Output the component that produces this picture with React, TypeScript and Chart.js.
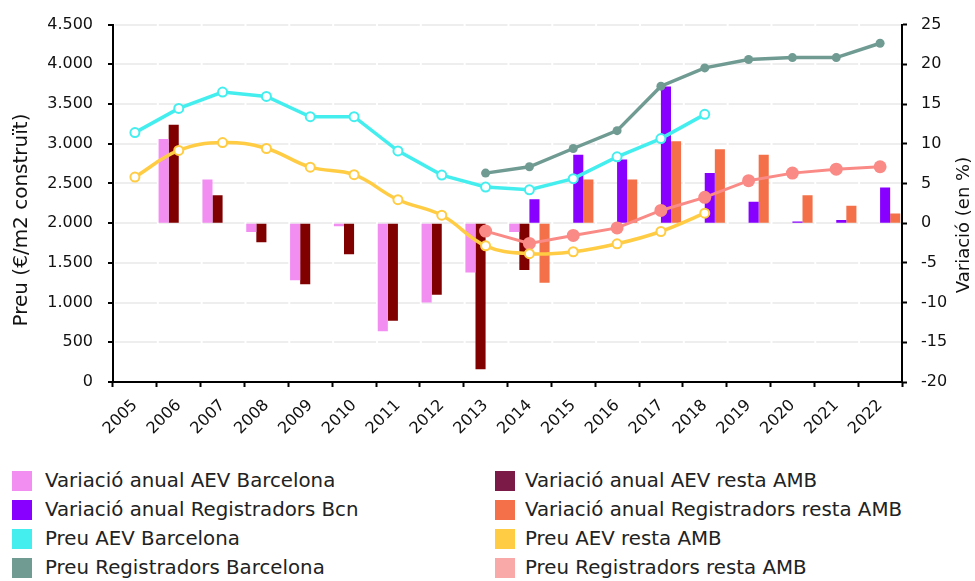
import React, { useEffect, useRef } from "react";
import { Chart, registerables } from "chart.js";

Chart.register(...registerables);

const years = ["2005","2006","2007","2008","2009","2010","2011","2012","2013","2014","2015","2016","2017","2018","2019","2020","2021","2022"];

const varAevBcn = [null, 10.6, 5.5, -1.1, -7.2, -0.4, -13.6, -10.0, -6.2, -1.1, null, null, null, null, null, null, null, null];
const varAevResta = [null, 12.4, 3.5, -2.4, -7.7, -3.9, -12.3, -9.0, -18.4, -5.9, null, null, null, null, null, null, null, null];
const varRegBcn = [null, null, null, null, null, null, null, null, null, 3.0, 8.6, 8.0, 17.2, 6.3, 2.7, 0.2, 0.4, 4.5];
const varRegResta = [null, null, null, null, null, null, null, null, null, -7.5, 5.5, 5.5, 10.3, 9.3, 8.6, 3.5, 2.2, 1.2];

const preuAevBcn = [3140, 3445, 3650, 3595, 3340, 3340, 2910, 2605, 2455, 2420, 2560, 2835, 3065, 3370, null, null, null, null];
const preuAevResta = [2580, 2915, 3015, 2940, 2705, 2610, 2295, 2100, 1715, 1615, 1640, 1740, 1895, 2125, null, null, null, null];
const preuRegBcn = [null, null, null, null, null, null, null, null, 2630, 2710, 2940, 3165, 3725, 3955, 4060, 4085, 4085, 4265];
const preuRegResta = [null, null, null, null, null, null, null, null, 1900, 1745, 1845, 1940, 2160, 2325, 2535, 2630, 2680, 2710];

const leftTicks = [0, 500, 1000, 1500, 2000, 2500, 3000, 3500, 4000, 4500];
const rightTicks = [-20, -15, -10, -5, 0, 5, 10, 15, 20, 25];

const leftTitle = "Preu (€/m2 construït)";
const rightTitle = "Variació (en %)";

const legendItems = [
  { label: "Variació anual AEV Barcelona", color: "#f28df2" },
  { label: "Variació anual AEV resta AMB", color: "#7b1a46" },
  { label: "Variació anual Registradors Bcn", color: "#8800ff" },
  { label: "Variació anual Registradors resta AMB", color: "#f37048" },
  { label: "Preu AEV Barcelona", color: "#44eeee" },
  { label: "Preu AEV resta AMB", color: "#ffcc44" },
  { label: "Preu Registradors Barcelona", color: "#6f9b93" },
  { label: "Preu Registradors resta AMB", color: "#f9a9a8" },
];

const FONT = "'DejaVu Sans', sans-serif";

const fmtThousands = (v: number) => {
  const s = String(Math.abs(v));
  const out = s.replace(/\B(?=(\d{3})+(?!\d))/g, ".");
  return (v < 0 ? "-" : "") + out;
};

const axisTitlesPlugin = {
  id: "axisTitles",
  afterDraw(chart: any) {
    const ctx = chart.ctx;
    ctx.save();
    ctx.fillStyle = "#111";
    ctx.textAlign = "center";
    ctx.textBaseline = "middle";
    ctx.font = "20px " + FONT;
    ctx.translate(22, 220);
    ctx.rotate(-Math.PI / 2);
    ctx.fillText(leftTitle, 0, 0);
    ctx.restore();
    ctx.save();
    ctx.fillStyle = "#111";
    ctx.textAlign = "center";
    ctx.textBaseline = "middle";
    ctx.font = "18px " + FONT;
    ctx.translate(964, 225);
    ctx.rotate(-Math.PI / 2);
    ctx.fillText(rightTitle, 0, 0);
    ctx.restore();
  },
};

export default function App() {
  const ref = useRef<HTMLCanvasElement>(null);

  useEffect(() => {
    if (!ref.current) return;
    const barCommon = { yAxisID: "y1", order: 1, barPercentage: 1.0, categoryPercentage: 0.92, borderWidth: 0 };
    const chart = new Chart(ref.current, {
      type: "bar",
      data: {
        labels: years,
        datasets: [
          { ...barCommon, label: legendItems[0].label, data: varAevBcn, backgroundColor: "#f28df2" },
          { ...barCommon, label: legendItems[1].label, data: varAevResta, backgroundColor: "#800000" },
          { ...barCommon, label: legendItems[2].label, data: varRegBcn, backgroundColor: "#8800ff" },
          { ...barCommon, label: legendItems[3].label, data: varRegResta, backgroundColor: "#f37048" },
          {
            type: "line", label: legendItems[4].label, data: preuAevBcn, yAxisID: "y", order: 0,
            borderColor: "#44eeee", backgroundColor: "#ffffff", borderWidth: 3.5, tension: 0,
            pointRadius: 4.5, pointBorderWidth: 2, pointBackgroundColor: "#ffffff", pointBorderColor: "#44eeee",
          },
          {
            type: "line", label: legendItems[5].label, data: preuAevResta, yAxisID: "y", order: 0,
            borderColor: "#ffcc44", backgroundColor: "#ffffff", borderWidth: 3.5, tension: 0.4,
            pointRadius: 4.5, pointBorderWidth: 2, pointBackgroundColor: "#ffffff", pointBorderColor: "#ffcc44",
          },
          {
            type: "line", label: legendItems[6].label, data: preuRegBcn, yAxisID: "y", order: 0,
            borderColor: "#6f9b93", backgroundColor: "#6f9b93", borderWidth: 3.5, tension: 0,
            pointRadius: 4.5, pointBorderWidth: 0, pointBackgroundColor: "#6f9b93",
          },
          {
            type: "line", label: legendItems[7].label, data: preuRegResta, yAxisID: "y", order: 0,
            borderColor: "#fa8a86", backgroundColor: "#fa8a86", borderWidth: 3, tension: 0,
            pointRadius: 6.5, pointBorderWidth: 0, pointBackgroundColor: "#fa8a86",
          },
        ] as any,
      },
      options: {
        responsive: false,
        animation: false,
        devicePixelRatio: 1,
        layout: { padding: { top: 22, left: 0, right: 0, bottom: 0 } },
        plugins: { legend: { display: false }, tooltip: { enabled: false }, title: { display: false } },
        scales: {
          x: {
            type: "category",
            offset: true,
            afterFit: (s: any) => { s.height = 78; },
            grid: { display: true, offset: true, drawOnChartArea: false, tickLength: 5, tickWidth: 2, tickColor: "#000", color: "#000" },
            border: { display: true, color: "#000", width: 2 },
            ticks: {
              autoSkip: false, maxRotation: 45, minRotation: 45, padding: 9,
              color: "#111", font: { family: FONT, size: 16 },
            },
          },
          y: {
            type: "linear",
            position: "left",
            min: 0, max: 4500,
            afterFit: (s: any) => { s.width = 113; },
            afterBuildTicks: (s: any) => { s.ticks = leftTicks.map((v) => ({ value: v })); },
            grid: {
              display: true, drawOnChartArea: true, color: "#eeeeee", lineWidth: 2,
              tickLength: 5, tickWidth: 2, tickColor: "#000",
            },
            border: { display: true, color: "#000", width: 2, dash: [41.83, 2], dashOffset: -1 },
            ticks: {
              padding: 15, color: "#111", font: { family: FONT, size: 16 },
              callback: (v: any) => fmtThousands(Number(v)),
            },
          },
          y1: {
            type: "linear",
            position: "right",
            min: -20, max: 25,
            afterFit: (s: any) => { s.width = 73; },
            afterBuildTicks: (s: any) => { s.ticks = rightTicks.map((v) => ({ value: v })); },
            grid: { display: true, drawOnChartArea: false, tickLength: 5, tickWidth: 2, tickColor: "#000", color: "#000" },
            border: { display: true, color: "#000", width: 2 },
            ticks: { padding: 14, color: "#111", font: { family: FONT, size: 16 } },
          },
        },
      } as any,
      plugins: [axisTitlesPlugin],
    });
    return () => chart.destroy();
  }, []);

  const rowCenters = [481, 510, 539, 568];
  const colBoxX = [12, 495];
  const colTextX = [45, 525];

  return (
    <div style={{ position: "absolute", left: 0, top: 0, width: 975, height: 581, background: "#fff", overflow: "hidden" }}>
      <canvas ref={ref} width={975} height={460} style={{ position: "absolute", left: 0, top: 0, width: 975, height: 460 }} />
      {legendItems.map((it, i) => {
        const col = i % 2;
        const row = Math.floor(i / 2);
        const cy = rowCenters[row];
        return (
          <React.Fragment key={i}>
            <div style={{ position: "absolute", left: colBoxX[col], top: cy - 10, width: 20, height: 20, background: it.color }} />
            <div style={{ position: "absolute", left: colTextX[col], top: cy - 12, height: 24, lineHeight: "24px", fontFamily: FONT, fontSize: 19.8, color: "#222", whiteSpace: "nowrap" }}>
              {it.label}
            </div>
          </React.Fragment>
        );
      })}
    </div>
  );
}
